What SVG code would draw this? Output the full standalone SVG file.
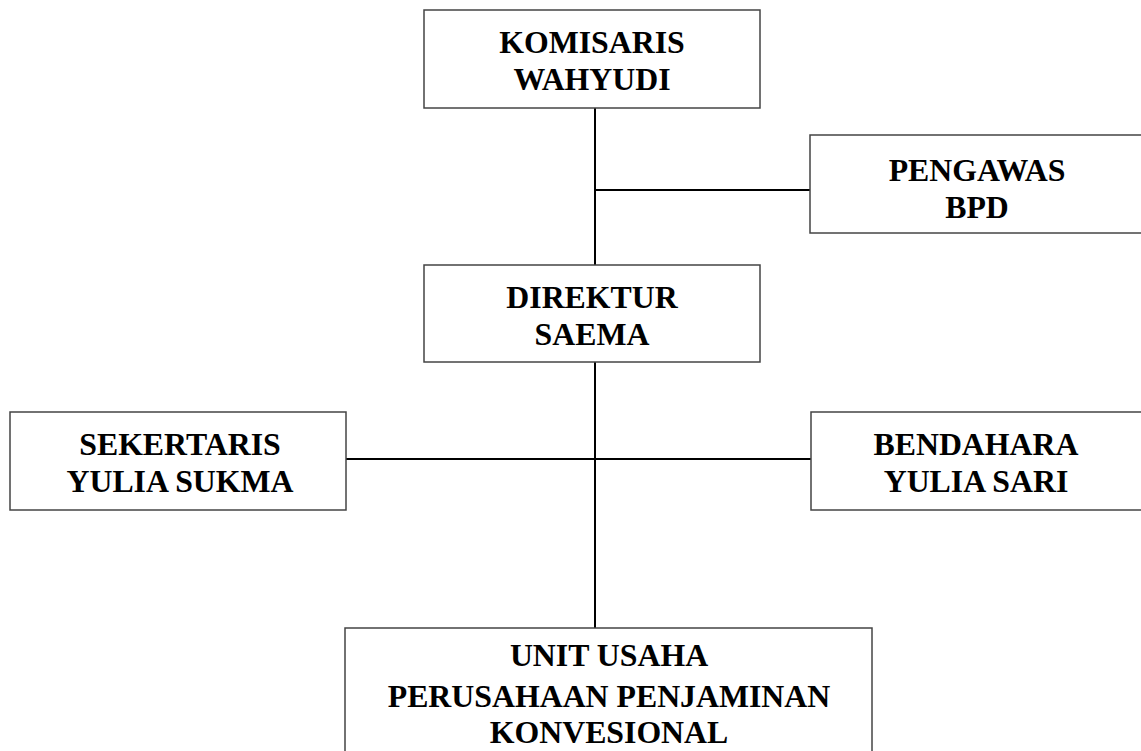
<svg xmlns="http://www.w3.org/2000/svg" width="1141" height="751" viewBox="0 0 1141 751">
<style>
.box{fill:#fff;stroke:#444;stroke-width:1.5}
.lbl{font-family:"Liberation Serif","Times New Roman",serif;font-weight:bold;font-size:31.8px;fill:#000;text-anchor:middle}
.con{stroke:#000;stroke-width:2;fill:none}
</style>
<rect width="1141" height="751" fill="#fff"/>
<g id="connectors">
<line class="con" x1="595" y1="108" x2="595" y2="265"/>
<line class="con" x1="595" y1="190" x2="810" y2="190"/>
<line class="con" x1="595" y1="362" x2="595" y2="628"/>
<line class="con" x1="346" y1="459" x2="811" y2="459"/>
</g>
<g id="komisaris">
<rect class="box" x="424" y="10" width="336" height="98"/>
<text class="lbl" x="592" y="53">KOMISARIS</text>
<text class="lbl" x="592" y="90">WAHYUDI</text>
</g>
<g id="pengawas">
<rect class="box" x="810" y="135" width="334" height="98"/>
<text class="lbl" x="977" y="181">PENGAWAS</text>
<text class="lbl" x="977" y="218">BPD</text>
</g>
<g id="direktur">
<rect class="box" x="424" y="265" width="336" height="97"/>
<text class="lbl" x="592" y="308">DIREKTUR</text>
<text class="lbl" x="592" y="345">SAEMA</text>
</g>
<g id="sekertaris">
<rect class="box" x="10" y="412" width="336" height="98"/>
<text class="lbl" x="180" y="455">SEKERTARIS</text>
<text class="lbl" x="180" y="492">YULIA SUKMA</text>
</g>
<g id="bendahara">
<rect class="box" x="811" y="412" width="333" height="98"/>
<text class="lbl" x="976" y="455">BENDAHARA</text>
<text class="lbl" x="976" y="492">YULIA SARI</text>
</g>
<g id="unit">
<rect class="box" x="345" y="628" width="527" height="140"/>
<text class="lbl" x="609" y="666">UNIT USAHA</text>
<text class="lbl" x="609" y="707">PERUSAHAAN PENJAMINAN</text>
<text class="lbl" x="609" y="743">KONVESIONAL</text>
</g>
</svg>
